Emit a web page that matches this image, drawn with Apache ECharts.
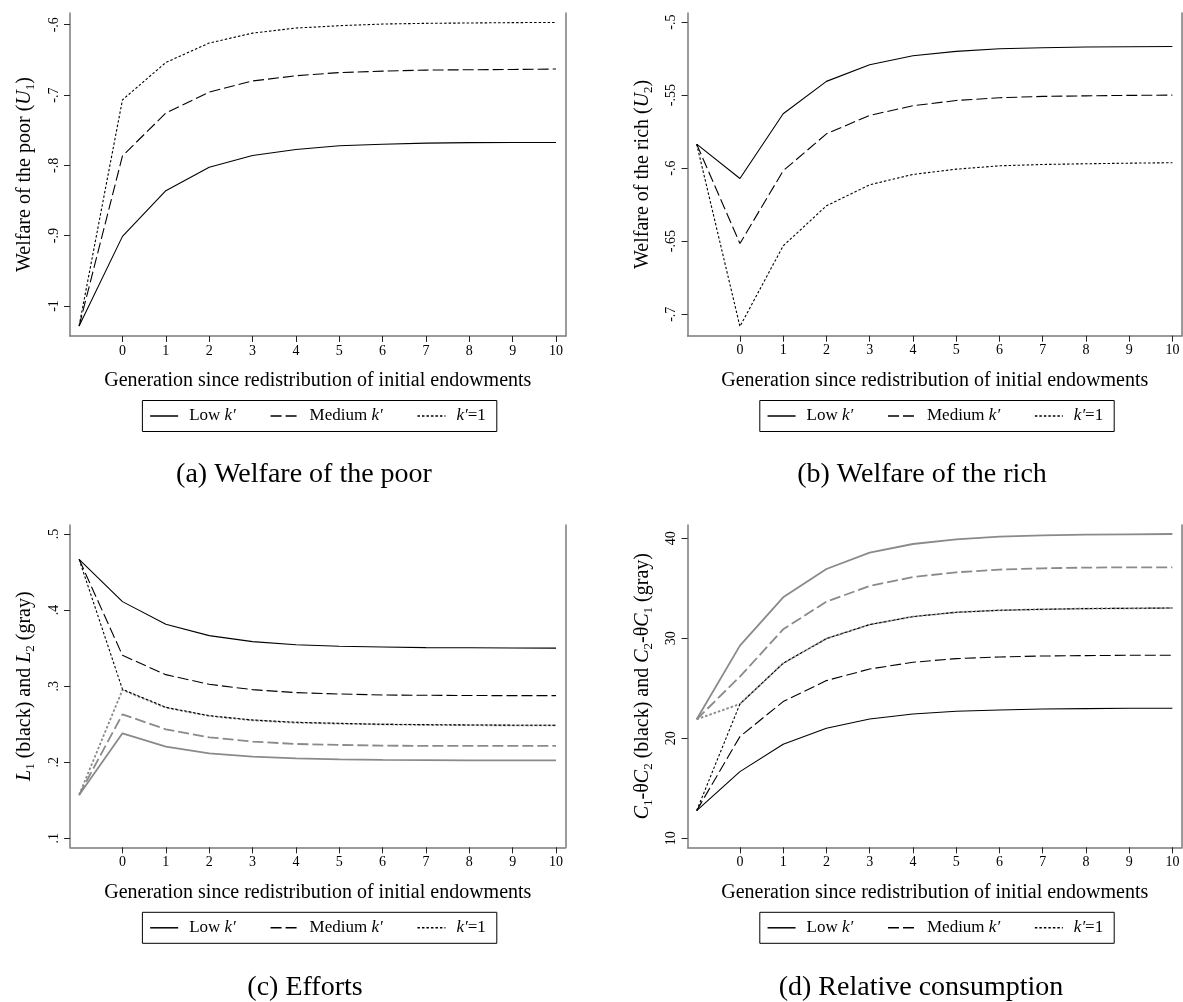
<!DOCTYPE html>
<html><head><meta charset="utf-8">
<script src="https://cdn.jsdelivr.net/npm/echarts@6/dist/echarts.min.js"></script>
<style>html,body{margin:0;padding:0;background:#fff}#c{width:1183px;height:1002px}</style>
</head><body><div id="c"></div>
<script>
// ---------------- data ----------------
const generations = [-1, 0, 1, 2, 3, 4, 5, 6, 7, 8, 9, 10];
const xTickValues = [0, 1, 2, 3, 4, 5, 6, 7, 8, 9, 10];
const xTickLabels = ['0', '1', '2', '3', '4', '5', '6', '7', '8', '9', '10'];
const legendNames = ['Low k′', 'Medium k′', 'k′=1'];

// (a) Welfare of the poor
const poorLow    = [-1.0285, -0.901, -0.836, -0.8026, -0.786, -0.7775, -0.7722, -0.770, -0.7684, -0.7677, -0.7675, -0.7675];
const poorMedium = [-1.0285, -0.7865, -0.7257, -0.6958, -0.680, -0.6726, -0.668, -0.666, -0.6645, -0.664, -0.6636, -0.663];
const poorOne    = [-1.0285, -0.7068, -0.6537, -0.626, -0.6119, -0.6047, -0.6014, -0.599, -0.598, -0.5975, -0.597, -0.5967];
const yTicksA  = [-1, -0.9, -0.8, -0.7, -0.6];
const yLabelsA = ['-1', '-.9', '-.8', '-.7', '-.6'];

// (b) Welfare of the rich
const richLow    = [-0.5836, -0.6071, -0.5628, -0.5406, -0.5292, -0.5231, -0.5201, -0.5183, -0.5176, -0.5171, -0.5169, -0.5167];
const richMedium = [-0.5836, -0.6516, -0.6018, -0.5765, -0.5639, -0.5573, -0.5537, -0.5518, -0.5509, -0.5505, -0.5502, -0.5500];
const richOne    = [-0.5836, -0.7084, -0.6532, -0.6258, -0.6114, -0.6043, -0.6007, -0.5984, -0.5975, -0.5970, -0.5966, -0.5963];
const yTicksB  = [-0.7, -0.65, -0.6, -0.55, -0.5];
const yLabelsB = ['-.7', '-.65', '-.6', '-.55', '-.5'];

// (c) Efforts
const effortL1Low    = [0.4667, 0.4111, 0.3813, 0.3664, 0.3585, 0.3545, 0.3524, 0.3515, 0.3506, 0.3504, 0.3502, 0.3500];
const effortL1Medium = [0.4667, 0.3405, 0.3151, 0.3024, 0.2954, 0.2915, 0.2897, 0.2884, 0.2880, 0.2877, 0.2875, 0.2875];
const effortL1One    = [0.4667, 0.2958, 0.2722, 0.2612, 0.2555, 0.2525, 0.2511, 0.2498, 0.2494, 0.2490, 0.2487, 0.2485];
const effortL2Low    = [0.157, 0.238, 0.2205, 0.2117, 0.2073, 0.2051, 0.2038, 0.2030, 0.2027, 0.2025, 0.2025, 0.2025];
const effortL2Medium = [0.157, 0.263, 0.2433, 0.2328, 0.2271, 0.2240, 0.2227, 0.2218, 0.2215, 0.2214, 0.2214, 0.2214];
const effortL2One    = [0.157, 0.295, 0.2717, 0.2608, 0.2551, 0.2520, 0.2507, 0.2498, 0.2490, 0.2487, 0.2485, 0.2485];
const yTicksC  = [0.1, 0.2, 0.3, 0.4, 0.5];
const yLabelsC = ['.1', '.2', '.3', '.4', '.5'];

// (d) Relative consumption
const consC1Low    = [12.77, 16.67, 19.4, 21.0, 21.93, 22.43, 22.7, 22.83, 22.93, 22.97, 23.0, 23.0];
const consC1Medium = [12.77, 20.17, 23.67, 25.77, 26.93, 27.6, 27.97, 28.13, 28.23, 28.27, 28.3, 28.3];
const consC1One    = [12.77, 23.43, 27.5, 29.97, 31.37, 32.17, 32.6, 32.8, 32.9, 32.97, 33.0, 33.03];
const consC2Low    = [21.9, 29.27, 34.1, 36.93, 38.57, 39.43, 39.9, 40.17, 40.3, 40.37, 40.4, 40.43];
const consC2Medium = [21.9, 26.17, 30.9, 33.67, 35.23, 36.13, 36.6, 36.87, 37.0, 37.07, 37.1, 37.1];
const consC2One    = [21.9, 23.43, 27.5, 29.97, 31.37, 32.17, 32.6, 32.8, 32.9, 32.97, 33.0, 33.03];
const yTicksD  = [10, 20, 30, 40];
const yLabelsD = ['10', '20', '30', '40'];

// ---------------- styling ----------------
const FONT = 'Liberation Serif';
const AXIS_GRAY = '#7a7a7a';
const SERIES_GRAY = '#8a8a8a';
const DASH = [11, 4];
const DOT = [2.5, 2];

const richName = {
  n: { fontFamily: FONT, fontSize: 20, lineHeight: 24, verticalAlign: 'middle', color: '#000' },
  i: { fontFamily: FONT, fontSize: 20, lineHeight: 24, fontStyle: 'italic', verticalAlign: 'middle', color: '#000' },
  s: { fontFamily: FONT, fontSize: 13, lineHeight: 13, verticalAlign: 'bottom', color: '#000' }
};

const grids = [
  { left: 70,    top: 13,  width: 495.6, height: 323 },
  { left: 687.6, top: 13,  width: 494.3, height: 322.7 },
  { left: 70,    top: 525, width: 495.6, height: 322.3 },
  { left: 687.6, top: 525, width: 494.3, height: 322.3 }
];
const yRanges = [[-1.0427, -0.5833], [-0.7147, -0.4938], [0.0882, 0.5118], [9.1, 41.33]];
const yTicks = [yTicksA, yTicksB, yTicksC, yTicksD];
const yLabels = [yLabelsA, yLabelsB, yLabelsC, yLabelsD];
const yNames = [
  '{n|Welfare of the poor (}{i|U}{s|1}{n|)}',
  '{n|Welfare of the rich (}{i|U}{s|2}{n|)}',
  '{i|L}{s|1}{n| (black) and }{i|L}{s|2}{n| (gray)}',
  '{i|C}{s|1}{n|-θ}{i|C}{s|2}{n| (black) and }{i|C}{s|2}{n|-θ}{i|C}{s|1}{n| (gray)}'
];

const xAxes = [], yAxes = [];
grids.forEach((g, k) => {
  xAxes.push({
    type: 'value', gridIndex: k, min: -1.21, max: 10.22,
    axisLine: { show: true, onZero: false, lineStyle: { color: AXIS_GRAY, width: 1.5 } },
    axisTick: { show: true, length: 6, lineStyle: { color: '#222', width: 1 }, customValues: xTickValues },
    axisLabel: { customValues: xTickValues, margin: 8, fontFamily: FONT, fontSize: 14, color: '#000',
      formatter: v => xTickLabels[xTickValues.indexOf(Math.round(v))] },
    splitLine: { show: false },
    name: 'Generation since redistribution of initial endowments',
    nameLocation: 'middle', nameGap: 35,
    nameTextStyle: { fontFamily: FONT, fontSize: 20, color: '#000' }
  });
  const tv = yTicks[k], tl = yLabels[k];
  yAxes.push({
    type: 'value', gridIndex: k, min: yRanges[k][0], max: yRanges[k][1], position: 'left',
    axisLine: { show: true, onZero: false, lineStyle: { color: AXIS_GRAY, width: 1.5 } },
    axisTick: { show: true, length: 6, lineStyle: { color: '#222', width: 1 }, customValues: tv },
    axisLabel: { customValues: tv, rotate: 90, margin: 9, fontFamily: FONT, fontSize: 14, color: '#000',
      formatter: v => { let best = 0; tv.forEach((t, j) => { if (Math.abs(t - v) < Math.abs(tv[best] - v)) best = j; }); return tl[best]; } },
    splitLine: { show: false },
    name: yNames[k], nameLocation: 'middle', nameGap: 33,
    nameTextStyle: { fontFamily: FONT, fontSize: 20, color: '#000', rich: richName }
  });
  // right frame line
  yAxes.push({
    type: 'value', gridIndex: k, min: yRanges[k][0], max: yRanges[k][1], position: 'right',
    axisLine: { show: true, onZero: false, lineStyle: { color: AXIS_GRAY, width: 1.5 } },
    axisTick: { show: false }, axisLabel: { show: false }, splitLine: { show: false }
  });
});

function pts(arr) { return generations.map((g, i) => [g, arr[i]]); }
function line(name, arr, k, type, gray) {
  return {
    type: 'line', name, xAxisIndex: k, yAxisIndex: 2 * k, data: pts(arr),
    showSymbol: false, symbol: 'none', silent: true, animation: false,
    lineStyle: { color: gray ? SERIES_GRAY : '#000', width: gray ? 1.8 : 1.1, type },
    itemStyle: { color: gray ? SERIES_GRAY : '#000' },
    z: gray ? 2 : 3
  };
}

const series = [
  line('Low k′', poorLow, 0, 'solid'), line('Medium k′', poorMedium, 0, DASH), line('k′=1', poorOne, 0, DOT),
  line('Low k′', richLow, 1, 'solid'), line('Medium k′', richMedium, 1, DASH), line('k′=1', richOne, 1, DOT),
  line('Low k′', effortL1Low, 2, 'solid'), line('Medium k′', effortL1Medium, 2, DASH), line('k′=1', effortL1One, 2, DOT),
  line('L2 low', effortL2Low, 2, 'solid', true), line('L2 medium', effortL2Medium, 2, DASH, true), line('L2 one', effortL2One, 2, DOT, true),
  line('Low k′', consC1Low, 3, 'solid'), line('Medium k′', consC1Medium, 3, DASH), line('k′=1', consC1One, 3, DOT),
  line('C2 low', consC2Low, 3, 'solid', true), line('C2 medium', consC2Medium, 3, DASH, true), line('C2 one', consC2One, 3, DOT, true)
];

const legendRich = {
  t: { fontFamily: FONT, fontSize: 17, lineHeight: 17, color: '#000' },
  i: { fontFamily: FONT, fontSize: 17, lineHeight: 17, fontStyle: 'italic', color: '#000' },
  p: { fontFamily: FONT, fontSize: 17, lineHeight: 17, color: '#000', padding: [0, 0, 0, 6] }
};
const legendFmt = {
  'Low k′': '{p|Low }{i|k′}',
  'Medium k′': '{p|Medium }{i|k′}',
  'k′=1': '{p|}{i|k′}{t|=1}'
};
function legendAt(left, top) {
  return {
    left, top, orient: 'horizontal', data: legendNames, selectedMode: false,
    itemWidth: 28, itemHeight: 14, itemGap: 34,
    padding: [7, 11, 7, 7], borderColor: '#000', borderWidth: 1,
    itemStyle: { opacity: 0 },
    lineStyle: { width: 1.5, color: '#000' },
    textStyle: { fontFamily: FONT, fontSize: 17, color: '#000', rich: legendRich },
    formatter: n => legendFmt[n]
  };
}

const captions = [
  ['(a) Welfare of the poor', 304, 475],
  ['(b) Welfare of the rich', 922, 475],
  ['(c) Efforts', 305, 988],
  ['(d) Relative consumption', 921, 988]
];

const chart = echarts.init(document.getElementById('c'), null, { renderer: 'canvas' });
chart.setOption({
  backgroundColor: '#fff',
  animation: false,
  grid: grids,
  xAxis: xAxes,
  yAxis: yAxes,
  legend: [legendAt(142.4, 400.5), legendAt(759.8, 400.5), legendAt(142.4, 912.3), legendAt(759.8, 912.3)],
  series,
  graphic: captions.map(c => ({
    type: 'text', x: c[1], y: c[2], silent: true,
    style: { text: c[0], fontFamily: FONT, fontSize: 28, fill: '#000', textAlign: 'center', textVerticalAlign: 'middle' }
  }))
});
</script></body></html>
